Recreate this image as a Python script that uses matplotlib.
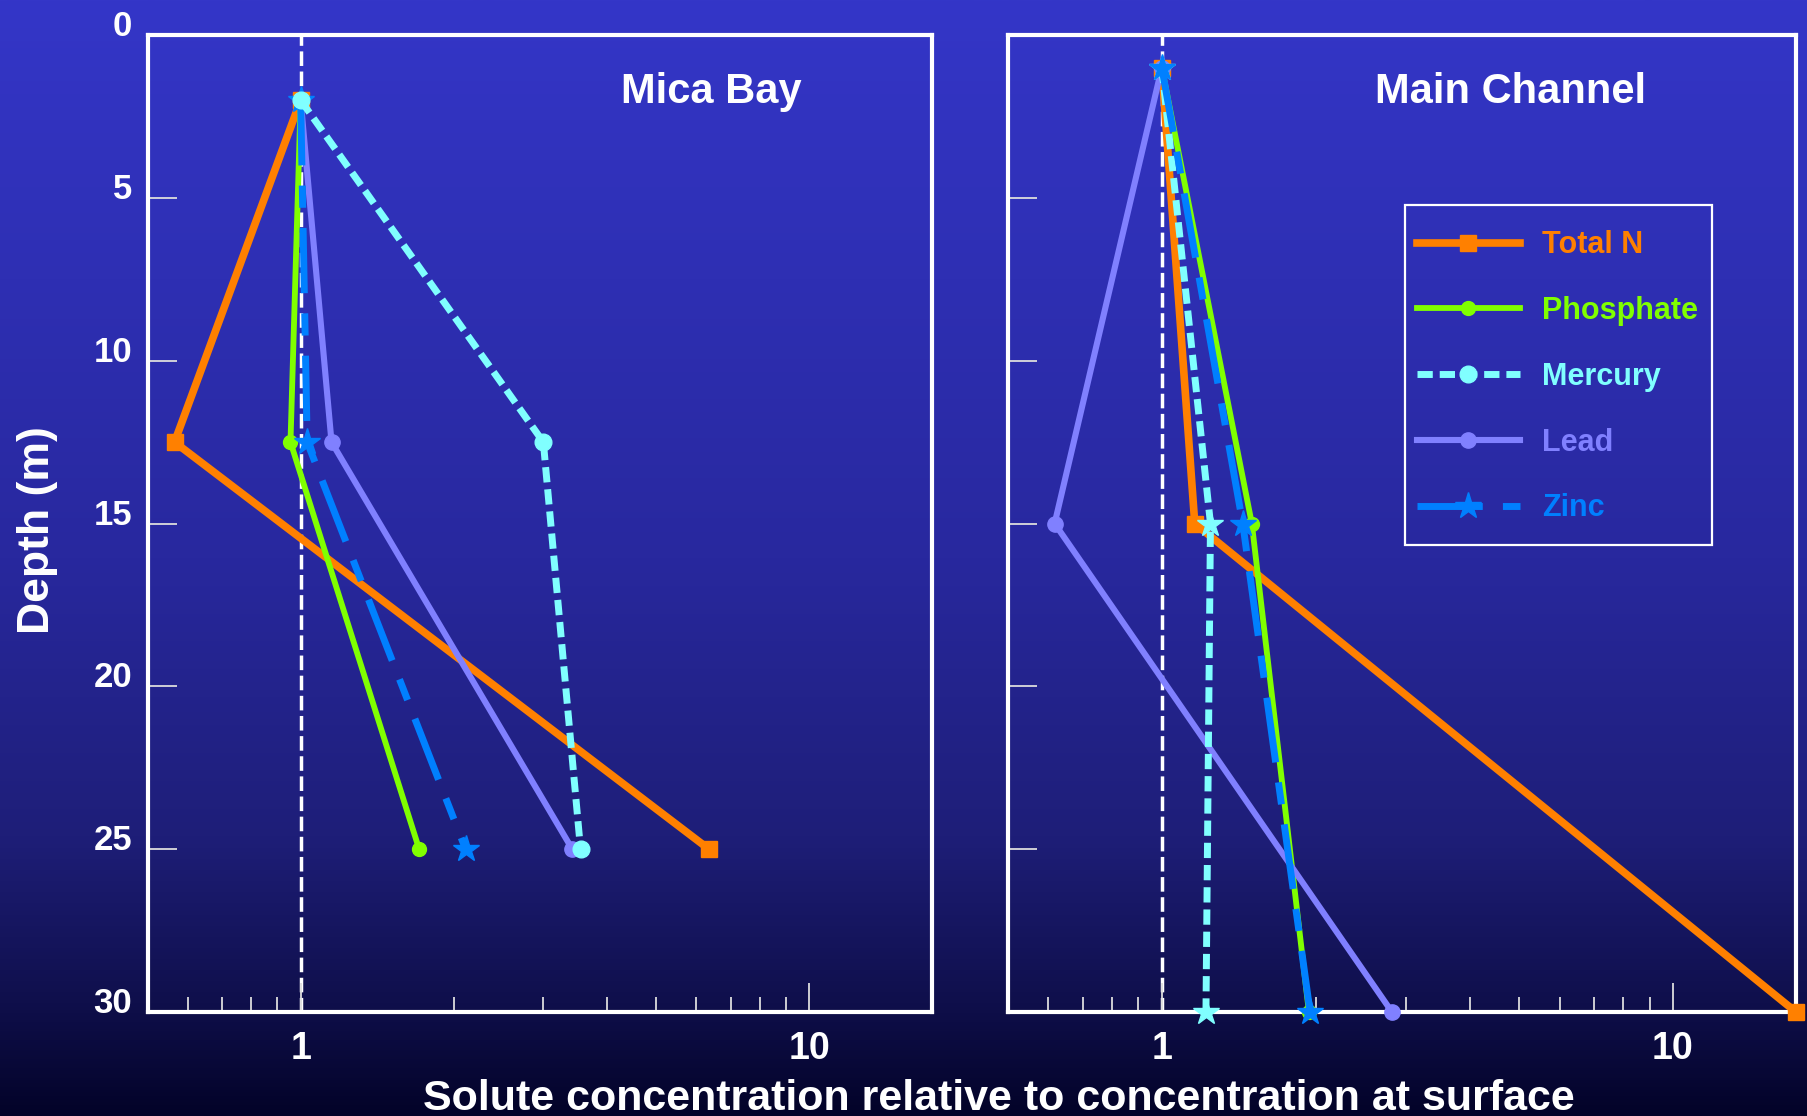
import numpy as np
import matplotlib
matplotlib.use('Agg')
import matplotlib.pyplot as plt
from matplotlib.ticker import FixedLocator, LogLocator, NullFormatter
from matplotlib.transforms import ScaledTranslation
from matplotlib.patches import Rectangle

plt.rcParams['font.family'] = ['Liberation Sans', 'DejaVu Sans']
plt.rcParams['font.weight'] = 'bold'

# sample depths (m)
depth_mica = [2, 12.5, 25]
depth_main = [1, 15, 30]

# concentration relative to surface - Mica Bay
mica_total_n = [1.0, 0.565, 6.35]
mica_phosphate = [1.0, 0.955, 1.71]
mica_mercury = [1.0, 3.0, 3.55]
mica_lead = [1.0, 1.15, 3.42]
mica_zinc = [1.0, 1.03, 2.11]

# concentration relative to surface - Main Channel
main_total_n = [1.0, 1.16, 17.4]
main_phosphate = [1.0, 1.50, 1.94]
main_mercury = [1.0, 1.245, 1.22]
main_lead = [1.0, 0.617, 2.82]
main_zinc = [1.0, 1.44, 1.95]

series_names = ['Total N', 'Phosphate', 'Mercury', 'Lead', 'Zinc']
colors = ['#FF8000', '#80FF00', '#80FFFF', '#8080FF', '#0080FF']
depth_ticks = [0, 5, 10, 15, 20, 25, 30]
conc_ticks = [1, 10]
conc_ticklabels = ['1', '10']

styles = {
    'Total N': dict(ls='-', marker='s', ms=11, lw=5.5),
    'Phosphate': dict(ls='-', marker='o', ms=10, lw=4.2),
    'Mercury': dict(ls=(0, (2.2, 1.0)), marker='o', ms=12, lw=5),
    'Lead': dict(ls='-', marker='o', ms=11, lw=4.4),
    'Zinc': dict(ls=(0, (9.4, 2.9, 3.2, 2.9)), marker='*', ms=20, lw=5),
}

fig = plt.figure(figsize=(18.08, 11.16), dpi=100)

# blue gradient background
stops = np.array([0.0, 0.5, 0.75, 0.9, 1.0])
cols = np.array([[52, 54, 200], [40, 40, 158], [30, 30, 120], [15, 15, 75], [3, 3, 40]]) / 255
yy = np.linspace(0, 1, 512)
grad = np.stack([np.interp(yy, stops, cols[:, i]) for i in range(3)], axis=-1)[:, None, :]
bg = fig.add_axes([0, 0, 1, 1], zorder=-10)
bg.imshow(grad, aspect='auto', extent=[0, 1, 0, 1], origin='upper')
bg.axis('off')

ax1 = fig.add_axes([0.0816, 0.0932, 0.4337, 0.8754])
ax2 = fig.add_axes([0.5575, 0.0932, 0.4358, 0.8754])


def setup(ax, show_labels):
    ax.set_facecolor('none')
    ax.set_xscale('log')
    ax.set_xlim(0.5, 17.4)
    ax.set_ylim(30, 0)
    for sp in ax.spines.values():
        sp.set_color('white')
        sp.set_linewidth(3)
        sp.set_zorder(2.5)
    ax.xaxis.set_major_locator(FixedLocator(conc_ticks))
    ax.set_xticklabels(conc_ticklabels)
    ax.xaxis.set_minor_locator(LogLocator(base=10, subs=np.arange(2, 10)))
    ax.xaxis.set_minor_formatter(NullFormatter())
    ax.set_yticks(depth_ticks)
    ax.tick_params(axis='both', which='both', direction='in', color='#DDDDDD',
                   width=1.3, labelcolor='white', top=False, right=False)
    ax.tick_params(axis='x', which='major', length=21, labelsize=27, pad=14)
    ax.tick_params(axis='x', which='minor', length=11)
    ax.tick_params(axis='y', which='major', length=21, labelsize=25, pad=11,
                   labelleft=show_labels)
    ax.axvline(1, color='white', lw=2.5, ls=(0, (4.2, 1.6)), zorder=1.5)


setup(ax1, True)
setup(ax2, False)

# lift the depth labels a little, as in the original slide
shift = ScaledTranslation(0, 12 / 100, fig.dpi_scale_trans)
for lab in ax1.get_yticklabels():
    lab.set_transform(lab.get_transform() + shift)

mica = [mica_total_n, mica_phosphate, mica_mercury, mica_lead, mica_zinc]
main = [main_total_n, main_phosphate, main_mercury, main_lead, main_zinc]
z_mica = [3, 4, 7, 5, 6]
z_main = [3, 4, 6, 5, 7]

handles = []
for name, c, vals, z in zip(series_names, colors, mica, z_mica):
    st = styles[name]
    ln, = ax1.plot(vals, depth_mica, color=c, ls=st['ls'], lw=st['lw'], marker=st['marker'],
                   ms=st['ms'], mec=c, mfc=c, zorder=z, clip_on=False)
    handles.append(ln)

for name, c, vals, z in zip(series_names, colors, main, z_main):
    st = styles[name]
    mk, ms = st['marker'], st['ms']
    if name == 'Mercury':
        mk, ms = '*', 19
    ax2.plot(vals, depth_main, color=c, ls=st['ls'], lw=st['lw'], marker=mk,
             ms=ms, mec=c, mfc=c, zorder=z, clip_on=False)

ax1.text(0.719, 0.9304, 'Mica Bay', transform=ax1.transAxes, ha='center', va='baseline',
         color='white', fontsize=30, fontweight='bold')
ax2.text(0.638, 0.9304, 'Main Channel', transform=ax2.transAxes, ha='center', va='baseline',
         color='white', fontsize=30, fontweight='bold')

leg = ax2.legend(handles=handles, labels=series_names, loc='upper left',
                 bbox_to_anchor=(0.519, 0.800), prop=dict(size=22, weight='bold'),
                 frameon=False, handlelength=3.37, handletextpad=0.72, labelspacing=1.17,
                 borderpad=0, borderaxespad=0, numpoints=1)
for t, c in zip(leg.get_texts(), colors):
    t.set_color(c)
ax2.add_patch(Rectangle((0.5038, 0.478), 0.3896, 0.348, transform=ax2.transAxes,
                        fill=False, ec='white', lw=1.6, zorder=8))

fig.text(0.5526, 0.005, 'Solute concentration relative to concentration at surface',
         ha='center', va='baseline', color='white', fontsize=31, fontweight='bold')
fig.text(0.0207, 0.525, 'Depth (m)', rotation=90, ha='center', va='center',
         color='white', fontsize=32, fontweight='bold')

fig.savefig('out.png', dpi=100)
